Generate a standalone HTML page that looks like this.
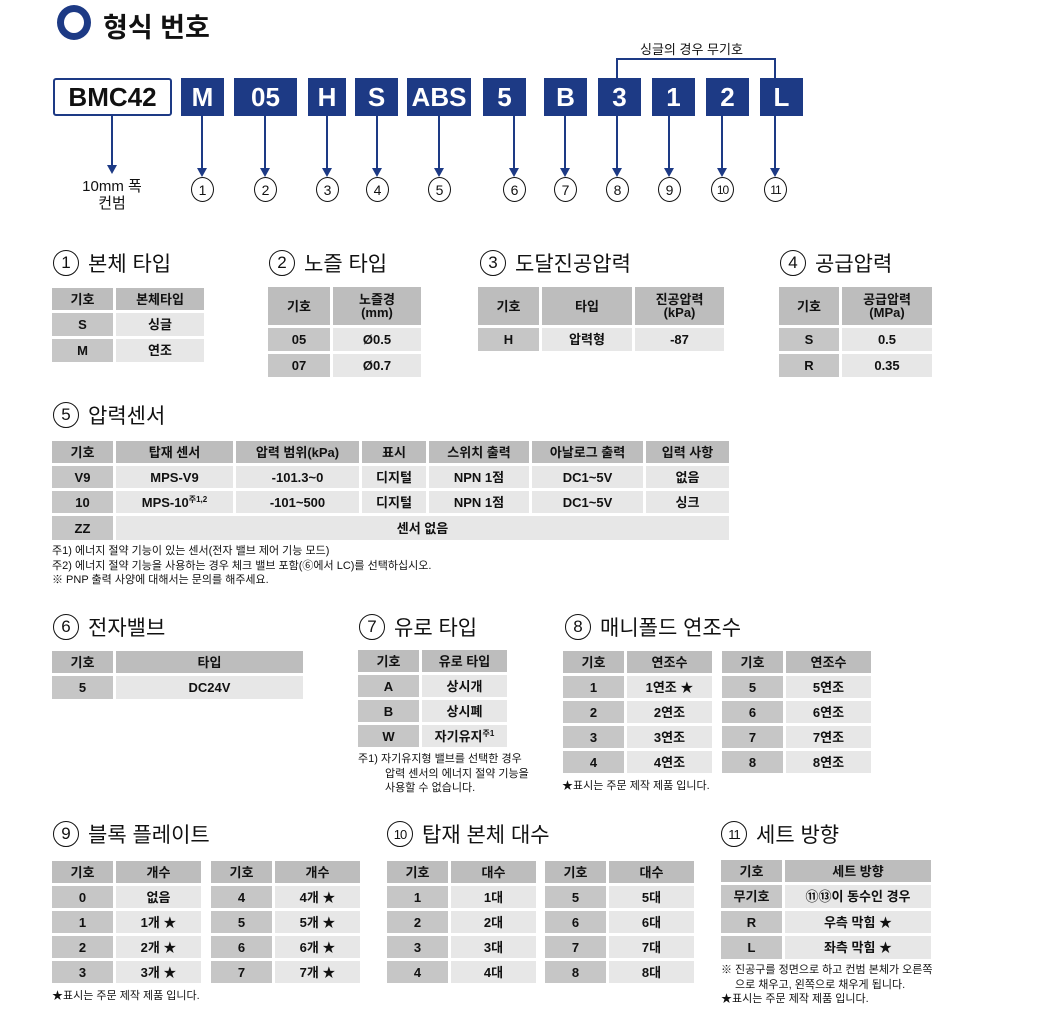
<!DOCTYPE html>
<html><head><meta charset="utf-8">
<style>
*{margin:0;padding:0;box-sizing:border-box}
body{width:1050px;height:1021px;background:#fff;position:relative;overflow:hidden;font-family:"Liberation Sans","Noto Sans CJK KR",sans-serif;color:#111}
.a{position:absolute}
.t{position:absolute;display:grid;gap:3px;font-size:13px;font-weight:bold}
.t div{display:flex;align-items:center;justify-content:center;text-align:center;line-height:1.0}
.h{background:#bdbdbd}
.k{background:#c6c6c6}
.v{background:#e7e7e7}
.sec{position:absolute;font-size:21px;display:flex;align-items:center;gap:9px;white-space:nowrap}
.c{display:inline-flex;width:26px;height:26px;border:1.6px solid #111;border-radius:50%;align-items:center;justify-content:center;font-size:17px}
.c2{font-size:13px;letter-spacing:-1px}
.note{position:absolute;font-size:11px;line-height:14.5px;white-space:nowrap}
.bx{position:absolute;top:78px;height:38px;background:#1d3a85;color:#fff;font-weight:bold;font-size:26px;display:flex;align-items:center;justify-content:center}
.n{position:absolute;top:177px;width:23px;height:25px;border:1.5px solid #111;border-radius:50%;font-size:14px;display:flex;align-items:center;justify-content:center}
sup{font-size:8px;vertical-align:top;position:relative;top:-2px}
</style></head><body>

<div class="a" style="left:57px;top:5px;width:34px;height:35px;border:7px solid #1d3a85;border-radius:50%"></div>
<div class="a" style="left:103px;top:6px;font-size:27px;font-weight:bold">형식 번호</div>

<div class="a" style="left:616px;top:58px;width:160px;height:20px;border:2px solid #1d3a85;border-bottom:none"></div>
<div class="a" style="left:640px;top:39px;font-size:13px">싱글의 경우 무기호</div>

<div class="a" style="left:53px;top:78px;width:119px;height:38px;border:2px solid #1d3a85;border-radius:3px;font-size:26px;font-weight:bold;display:flex;align-items:center;justify-content:center">BMC42</div>
<div class="bx" style="left:181px;width:43px">M</div>
<div class="bx" style="left:234px;width:63px">05</div>
<div class="bx" style="left:308px;width:38px">H</div>
<div class="bx" style="left:355px;width:43px">S</div>
<div class="bx" style="left:407px;width:64px">ABS</div>
<div class="bx" style="left:483px;width:43px">5</div>
<div class="bx" style="left:544px;width:43px">B</div>
<div class="bx" style="left:598px;width:43px">3</div>
<div class="bx" style="left:652px;width:43px">1</div>
<div class="bx" style="left:706px;width:43px">2</div>
<div class="bx" style="left:760px;width:43px">L</div>

<svg class="a" style="left:0;top:0" width="1050" height="200">
<g stroke="#1d3a85" stroke-width="2" fill="#1d3a85">
<line x1="112" y1="116" x2="112" y2="166"/><polygon points="107,165 117,165 112,174" stroke="none"/>
<line x1="202" y1="116" x2="202" y2="169"/><polygon points="197,168 207,168 202,177" stroke="none"/>
<line x1="265" y1="116" x2="265" y2="169"/><polygon points="260,168 270,168 265,177" stroke="none"/>
<line x1="327" y1="116" x2="327" y2="169"/><polygon points="322,168 332,168 327,177" stroke="none"/>
<line x1="377" y1="116" x2="377" y2="169"/><polygon points="372,168 382,168 377,177" stroke="none"/>
<line x1="439" y1="116" x2="439" y2="169"/><polygon points="434,168 444,168 439,177" stroke="none"/>
<line x1="514" y1="116" x2="514" y2="169"/><polygon points="509,168 519,168 514,177" stroke="none"/>
<line x1="565" y1="116" x2="565" y2="169"/><polygon points="560,168 570,168 565,177" stroke="none"/>
<line x1="617" y1="116" x2="617" y2="169"/><polygon points="612,168 622,168 617,177" stroke="none"/>
<line x1="669" y1="116" x2="669" y2="169"/><polygon points="664,168 674,168 669,177" stroke="none"/>
<line x1="722" y1="116" x2="722" y2="169"/><polygon points="717,168 727,168 722,177" stroke="none"/>
<line x1="775" y1="116" x2="775" y2="169"/><polygon points="770,168 780,168 775,177" stroke="none"/>
</g></svg>

<div class="a" style="left:62px;top:178px;width:100px;text-align:center;font-size:15px;line-height:17px">10mm 폭<br>컨범</div>
<div class="n" style="left:191px">1</div>
<div class="n" style="left:254px">2</div>
<div class="n" style="left:316px">3</div>
<div class="n" style="left:366px">4</div>
<div class="n" style="left:428px">5</div>
<div class="n" style="left:503px">6</div>
<div class="n" style="left:554px">7</div>
<div class="n" style="left:606px">8</div>
<div class="n" style="left:658px">9</div>
<div class="n" style="left:711px;font-size:12px;letter-spacing:-1px">10</div>
<div class="n" style="left:764px;font-size:12px;letter-spacing:-1px">11</div>

<div class="sec" style="left:53px;top:248px"><span class="c">1</span>본체 타입</div>
<div class="sec" style="left:269px;top:248px"><span class="c">2</span>노즐 타입</div>
<div class="sec" style="left:480px;top:248px"><span class="c">3</span>도달진공압력</div>
<div class="sec" style="left:780px;top:248px"><span class="c">4</span>공급압력</div>
<div class="sec" style="left:53px;top:400px"><span class="c">5</span>압력센서</div>
<div class="sec" style="left:53px;top:612px"><span class="c">6</span>전자밸브</div>
<div class="sec" style="left:359px;top:612px"><span class="c">7</span>유로 타입</div>
<div class="sec" style="left:565px;top:612px"><span class="c">8</span>매니폴드 연조수</div>
<div class="sec" style="left:53px;top:819px"><span class="c">9</span>블록 플레이트</div>
<div class="sec" style="left:387px;top:819px"><span class="c c2">10</span>탑재 본체 대수</div>
<div class="sec" style="left:721px;top:819px"><span class="c c2">11</span>세트 방향</div>

<div class="t" style="left:52px;top:288px;grid-template-columns:61px 88px;grid-template-rows:22px 23px 23px">
<div class="h">기호</div><div class="h">본체타입</div>
<div class="k">S</div><div class="v">싱글</div>
<div class="k">M</div><div class="v">연조</div>
</div>
<div class="t" style="left:268px;top:287px;grid-template-columns:62px 88px;grid-template-rows:38px 23px 23px">
<div class="h">기호</div><div class="h">노즐경<br>(mm)</div>
<div class="k">05</div><div class="v">Ø0.5</div>
<div class="k">07</div><div class="v">Ø0.7</div>
</div>
<div class="t" style="left:478px;top:287px;grid-template-columns:61px 90px 89px;grid-template-rows:38px 23px">
<div class="h">기호</div><div class="h">타입</div><div class="h">진공압력<br>(kPa)</div>
<div class="k">H</div><div class="v">압력형</div><div class="v">-87</div>
</div>
<div class="t" style="left:779px;top:287px;grid-template-columns:60px 90px;grid-template-rows:38px 23px 23px">
<div class="h">기호</div><div class="h">공급압력<br>(MPa)</div>
<div class="k">S</div><div class="v">0.5</div>
<div class="k">R</div><div class="v">0.35</div>
</div>
<div class="t" style="left:52px;top:441px;grid-template-columns:61px 117px 123px 64px 100px 111px 83px;grid-template-rows:22px 22px 22px 24px">
<div class="h">기호</div><div class="h">탑재 센서</div><div class="h">압력 범위(kPa)</div><div class="h">표시</div><div class="h">스위치 출력</div><div class="h">아날로그 출력</div><div class="h">입력 사항</div>
<div class="k">V9</div><div class="v">MPS-V9</div><div class="v">-101.3~0</div><div class="v">디지털</div><div class="v">NPN 1점</div><div class="v">DC1~5V</div><div class="v">없음</div>
<div class="k">10</div><div class="v">MPS-10<sup>주1,2</sup></div><div class="v">-101~500</div><div class="v">디지털</div><div class="v">NPN 1점</div><div class="v">DC1~5V</div><div class="v">싱크</div>
<div class="k">ZZ</div><div class="v" style="grid-column:2/8">센서 없음</div>
</div>
<div class="note" style="left:52px;top:544px">주1) 에너지 절약 기능이 있는 센서(전자 밸브 제어 기능 모드)<br>주2) 에너지 절약 기능을 사용하는 경우 체크 밸브 포함(⑥에서 LC)를 선택하십시오.<br>※ PNP 출력 사양에 대해서는 문의를 해주세요.</div>

<div class="t" style="left:52px;top:651px;grid-template-columns:61px 187px;grid-template-rows:22px 23px">
<div class="h">기호</div><div class="h">타입</div>
<div class="k">5</div><div class="v">DC24V</div>
</div>
<div class="t" style="left:358px;top:650px;grid-template-columns:61px 85px;grid-template-rows:22px 22px 22px 22px">
<div class="h">기호</div><div class="h">유로 타입</div>
<div class="k">A</div><div class="v">상시개</div>
<div class="k">B</div><div class="v">상시폐</div>
<div class="k">W</div><div class="v">자기유지<sup>주1</sup></div>
</div>
<div class="note" style="left:358px;top:752px">주1) 자기유지형 밸브를 선택한 경우<br><span style="padding-left:27px">압력 센서의 에너지 절약 기능을</span><br><span style="padding-left:27px">사용할 수 없습니다.</span></div>
<div class="t" style="left:563px;top:651px;grid-template-columns:61px 85px;grid-template-rows:22px 22px 22px 22px 22px">
<div class="h">기호</div><div class="h">연조수</div>
<div class="k">1</div><div class="v">1연조 ★</div>
<div class="k">2</div><div class="v">2연조</div>
<div class="k">3</div><div class="v">3연조</div>
<div class="k">4</div><div class="v">4연조</div>
</div>
<div class="t" style="left:722px;top:651px;grid-template-columns:61px 85px;grid-template-rows:22px 22px 22px 22px 22px">
<div class="h">기호</div><div class="h">연조수</div>
<div class="k">5</div><div class="v">5연조</div>
<div class="k">6</div><div class="v">6연조</div>
<div class="k">7</div><div class="v">7연조</div>
<div class="k">8</div><div class="v">8연조</div>
</div>
<div class="note" style="left:562px;top:779px">★표시는 주문 제작 제품 입니다.</div>

<div class="t" style="left:52px;top:861px;grid-template-columns:61px 85px;grid-template-rows:22px 22px 22px 22px 22px">
<div class="h">기호</div><div class="h">개수</div>
<div class="k">0</div><div class="v">없음</div>
<div class="k">1</div><div class="v">1개 ★</div>
<div class="k">2</div><div class="v">2개 ★</div>
<div class="k">3</div><div class="v">3개 ★</div>
</div>
<div class="t" style="left:211px;top:861px;grid-template-columns:61px 85px;grid-template-rows:22px 22px 22px 22px 22px">
<div class="h">기호</div><div class="h">개수</div>
<div class="k">4</div><div class="v">4개 ★</div>
<div class="k">5</div><div class="v">5개 ★</div>
<div class="k">6</div><div class="v">6개 ★</div>
<div class="k">7</div><div class="v">7개 ★</div>
</div>
<div class="note" style="left:52px;top:989px">★표시는 주문 제작 제품 입니다.</div>

<div class="t" style="left:387px;top:861px;grid-template-columns:61px 85px;grid-template-rows:22px 22px 22px 22px 22px">
<div class="h">기호</div><div class="h">대수</div>
<div class="k">1</div><div class="v">1대</div>
<div class="k">2</div><div class="v">2대</div>
<div class="k">3</div><div class="v">3대</div>
<div class="k">4</div><div class="v">4대</div>
</div>
<div class="t" style="left:545px;top:861px;grid-template-columns:61px 85px;grid-template-rows:22px 22px 22px 22px 22px">
<div class="h">기호</div><div class="h">대수</div>
<div class="k">5</div><div class="v">5대</div>
<div class="k">6</div><div class="v">6대</div>
<div class="k">7</div><div class="v">7대</div>
<div class="k">8</div><div class="v">8대</div>
</div>

<div class="t" style="left:721px;top:860px;grid-template-columns:61px 146px;grid-template-rows:22px 23px 22px 23px">
<div class="h">기호</div><div class="h">세트 방향</div>
<div class="k">무기호</div><div class="v">⑪⑬이 동수인 경우</div>
<div class="k">R</div><div class="v">우측 막힘 ★</div>
<div class="k">L</div><div class="v">좌측 막힘 ★</div>
</div>
<div class="note" style="left:721px;top:963px">※ 진공구를 정면으로 하고 컨범 본체가 오른쪽<br><span style="padding-left:14px">으로 채우고, 왼쪽으로 채우게 됩니다.</span><br>★표시는 주문 제작 제품 입니다.</div>

</body></html>
